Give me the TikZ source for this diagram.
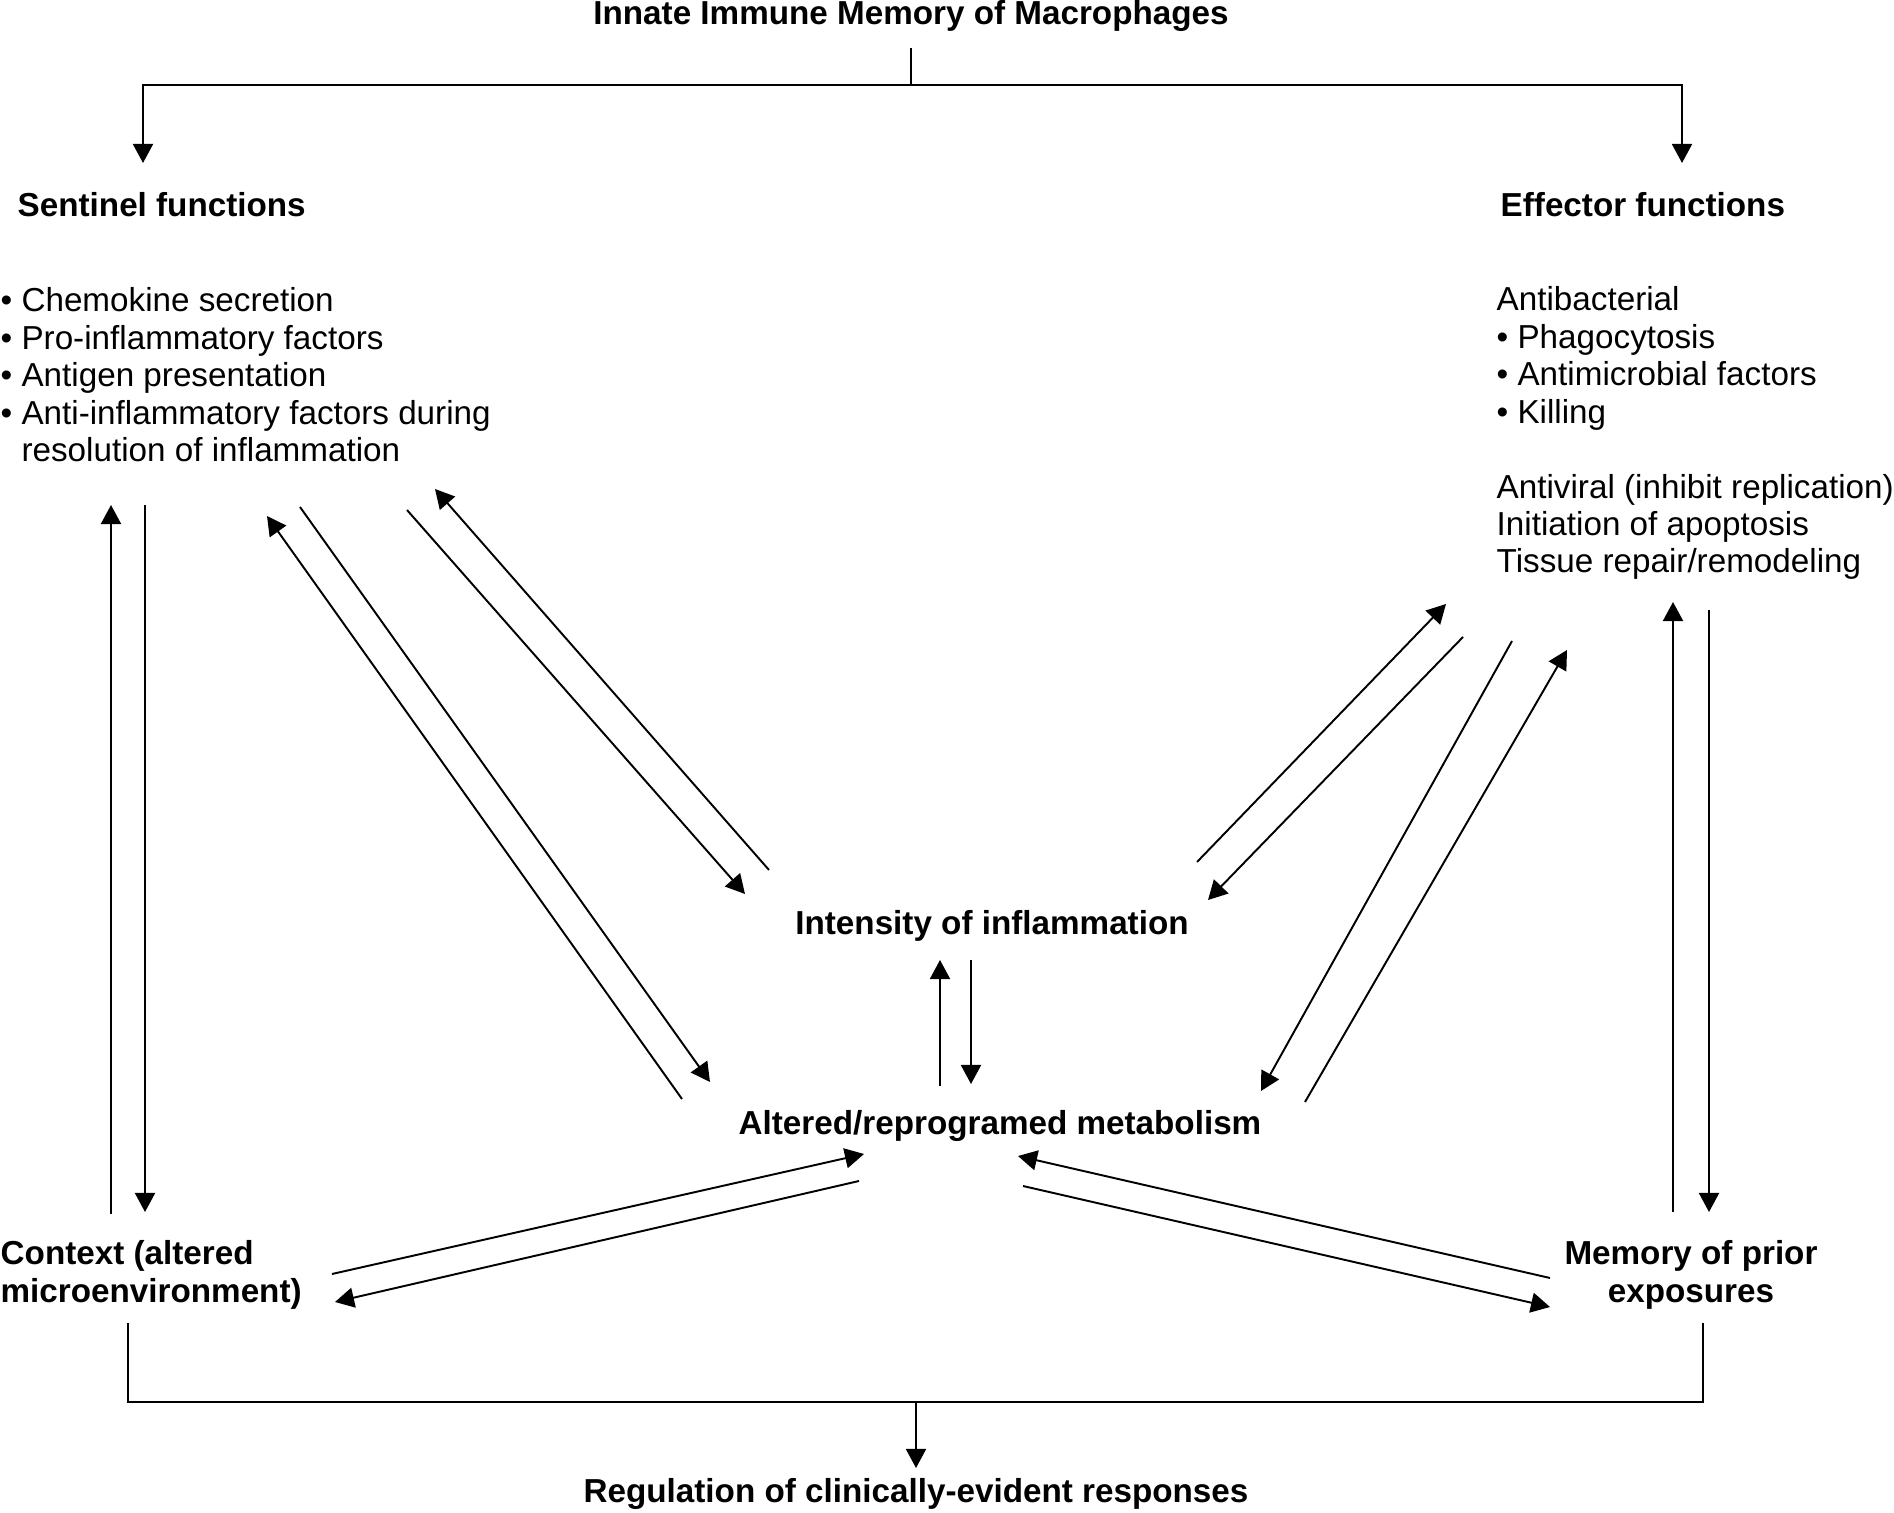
\documentclass[tikz,border=0pt]{standalone}
\usepackage{fontspec}
\setmainfont{Liberation Sans}
\usetikzlibrary{arrows.meta}

\begin{document}
\begin{tikzpicture}[
  	x=0.01cm,
  	y=-0.01cm,
  	font=\fontsize{9.45}{10.65}\selectfont,
  	heading/.style={font=\fontsize{9.45}{10.65}\selectfont\bfseries,inner sep=0pt},
  	itemlist/.style={align=left,inner sep=0pt,anchor=north west},
  	link/.style={-{Triangle[length=1.9mm,width=2mm]},line width=0.55pt},
  	bracket/.style={line width=0.55pt}
  	]
  	\useasboundingbox (0,0) rectangle (1894,1513);
  	
  	% Headings and lists
  	\node[heading] (title) at (911,16) {Innate Immune Memory of Macrophages};
  	\node[heading,anchor=west] (senth) at (17,205) {Sentinel functions};
  	\node[heading,anchor=west] (effh) at (1500,205) {Effector functions};
  	\node[itemlist] (sentl) at (0,287) {\textbullet\ Chemokine secretion\\
  		\textbullet\ Pro-inflammatory factors\\
  		\textbullet\ Antigen presentation\\
  		\textbullet\ Anti-inflammatory factors during\\
  		\hphantom{\textbullet\ }resolution of inflammation};
  	\node[itemlist] (effl) at (1496,286) {Antibacterial\\
  		\textbullet\ Phagocytosis\\
  		\textbullet\ Antimicrobial factors\\
  		\textbullet\ Killing\\[10.65pt]
  		Antiviral (inhibit replication)\\
  		Initiation of apoptosis\\
  		Tissue repair/remodeling};
  	
  	\node[heading] (intens) at (992,926) {Intensity of inflammation};
  	\node[heading] (metab) at (1000,1126) {Altered/reprogramed metabolism};
  	\node[heading,align=left,anchor=north west] (ctx) at (0,1240) {Context (altered\\microenvironment)};
  	\node[heading,align=center,anchor=north] (mem) at (1691,1240) {Memory of prior\\exposures};
  	\node[heading] (reg) at (916,1494) {Regulation of clinically-evident responses};
  	
  	% Top split
  	\coordinate (split) at ([shift={(0,69)}]title.center);
  	\draw[bracket] ([shift={(0,32)}]title.center) -- (split);
  	\draw[link] (split) -| ([shift={(126,-42)}]senth.west);
  	\draw[link] (split) -| ([shift={(182,-42)}]effh.west);
  	
  	% Sentinel <-> context
  	\draw[link] ([shift={(111,-26)}]ctx.north west) -- ([shift={(111,218)}]sentl.north west);
  	\draw[link] ([shift={(145,218)}]sentl.north west) -- ([shift={(145,-28)}]ctx.north west);
  	
  	% Sentinel <-> intensity
  	\draw[link] ([shift={(-223,-56)}]intens.center) -- ([shift={(435,202)}]sentl.north west);
  	\draw[link] ([shift={(407,223)}]sentl.north west) -- ([shift={(-247,-32)}]intens.center);
  	
  	% Sentinel <-> metabolism
  	\draw[link] ([shift={(-318,-27)}]metab.center) -- ([shift={(267,229)}]sentl.north west);
  	\draw[link] ([shift={(300,220)}]sentl.north west) -- ([shift={(-290,-44)}]metab.center);
  	
  	% Effector <-> intensity
  	\draw[link] ([shift={(205,-64)}]intens.center) -- ([shift={(-50,318)}]effl.north west);
  	\draw[link] ([shift={(-33,351)}]effl.north west) -- ([shift={(216,-26)}]intens.center);
  	
  	% Effector <-> metabolism
  	\draw[link] ([shift={(16,355)}]effl.north west) -- ([shift={(261,-35)}]metab.center);
  	\draw[link] ([shift={(305,-24)}]metab.center) -- ([shift={(71,364)}]effl.north west);
  	
  	% Effector <-> memory
  	\draw[link] ([shift={(-18,-28)}]mem.north) -- ([shift={(177,316)}]effl.north west);
  	\draw[link] ([shift={(213,324)}]effl.north west) -- ([shift={(18,-28)}]mem.north);
  	
  	% Intensity <-> metabolism
  	\draw[link] ([shift={(-60,-40)}]metab.center) -- ([shift={(-52,34)}]intens.center);
  	\draw[link] ([shift={(-21,34)}]intens.center) -- ([shift={(-29,-42)}]metab.center);
  	
  	% Metabolism <-> context / memory
  	\draw[link] ([shift={(332,34)}]ctx.north west) -- ([shift={(-136,28)}]metab.center);
  	\draw[link] ([shift={(-141,55)}]metab.center) -- ([shift={(335,62)}]ctx.north west);
  	\draw[link] ([shift={(-141,38)}]mem.north) -- ([shift={(18,30)}]metab.center);
  	\draw[link] ([shift={(23,60)}]metab.center) -- ([shift={(-141,67)}]mem.north);
  	
  	% Bottom join
  	\draw[bracket] ([shift={(128,83)}]ctx.north west) |- ([shift={(12,162)}]mem.north) -- ([shift={(12,83)}]mem.north);
  	\draw[link] ([shift={(0,-92)}]reg.center) -- ([shift={(0,-26)}]reg.center);
  \end{tikzpicture}
\end{document}
